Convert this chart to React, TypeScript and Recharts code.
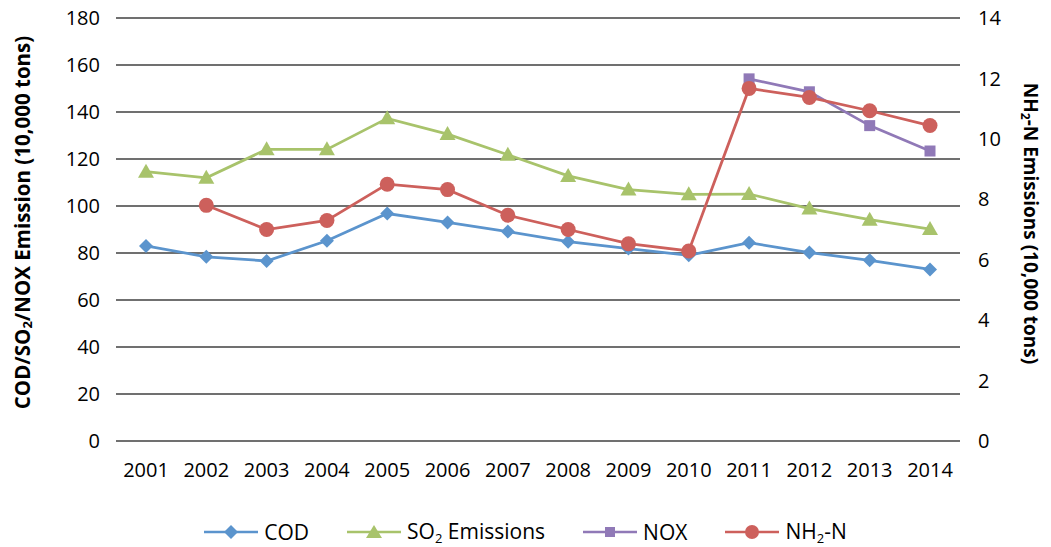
import React from 'react';
import { LineChart, Line, XAxis, YAxis, CartesianGrid, Legend } from 'recharts';

const years = ['2001', '2002', '2003', '2004', '2005', '2006', '2007', '2008', '2009', '2010', '2011', '2012', '2013', '2014'];
const codValues = [83.0, 78.4, 76.6, 85.2, 96.8, 93.0, 89.1, 84.8, 81.9, 79.0, 84.4, 80.2, 76.9, 73.0];
const so2Values = [114.6, 112.0, 124.1, 124.1, 137.3, 130.6, 121.8, 112.8, 107.0, 105.0, 105.1, 98.9, 94.2, 90.2];
const noxValues: (number | null)[] = [null, null, null, null, null, null, null, null, null, null, 154.1, 148.6, 134.2, 123.4];
const nh2nValues: (number | null)[] = [null, 7.8, 7.0, 7.3, 8.5, 8.32, 7.47, 7.0, 6.53, 6.29, 11.67, 11.37, 10.93, 10.44];

const leftTicks = [0, 20, 40, 60, 80, 100, 120, 140, 160, 180];
const rightTicks = [0, 2, 4, 6, 8, 10, 12, 14];

const data = years.map((year, i) => ({
    year,
    cod: codValues[i],
    so2: so2Values[i],
    nox: noxValues[i],
    nh2n: nh2nValues[i],
}));

const COLORS = {
    cod: '#5b94cd',
    so2: '#a8c36b',
    nox: '#9079b7',
    nh2n: '#cd605c',
};

const FONT = '"Open Sans", sans-serif';

type DotProps = { cx?: number; cy?: number; value?: number | null; index?: number };

const hasPoint = (p: DotProps) => p.value != null && p.cx != null && p.cy != null && !isNaN(p.cy);

const DiamondDot = (p: DotProps) => {
    if (!hasPoint(p)) return <g key={`cd-${p.index}`} />;
    const { cx = 0, cy = 0 } = p;
    const r = 7;
    return <polygon key={`cd-${p.index}`} points={`${cx},${cy - r} ${cx + r},${cy} ${cx},${cy + r} ${cx - r},${cy}`} fill={COLORS.cod} />;
};

const TriangleDot = (p: DotProps) => {
    if (!hasPoint(p)) return <g key={`so-${p.index}`} />;
    const { cx = 0, cy = 0 } = p;
    return <polygon key={`so-${p.index}`} points={`${cx},${cy - 8} ${cx + 8},${cy + 6} ${cx - 8},${cy + 6}`} fill={COLORS.so2} />;
};

const SquareDot = (p: DotProps) => {
    if (!hasPoint(p)) return <g key={`nx-${p.index}`} />;
    const { cx = 0, cy = 0 } = p;
    return <rect key={`nx-${p.index}`} x={cx - 5.5} y={cy - 5.5} width={11} height={11} fill={COLORS.nox} />;
};

const CircleDot = (p: DotProps) => {
    if (!hasPoint(p)) return <g key={`nh-${p.index}`} />;
    const { cx = 0, cy = 0 } = p;
    return <circle key={`nh-${p.index}`} cx={cx} cy={cy} r={7.5} fill={COLORS.nh2n} />;
};

const LeftTitle = (props: any) => {
    const vb = props.viewBox || { x: 0, y: 18, width: 116, height: 423 };
    const x = vb.x + 22;
    const y = vb.y + vb.height / 2 - 7;
    return (
        <text x={x} y={y} transform={`rotate(-90, ${x}, ${y})`} textAnchor="middle" dominantBaseline="central"
            fontFamily={FONT} fontSize={20.5} fontWeight="bold" fill="#000">
            COD/SO<tspan dy={5} fontSize={13}>2</tspan><tspan dy={-5}>/NOX Emission (10,000 tons)</tspan>
        </text>
    );
};

const RightTitle = (props: any) => {
    const vb = props.viewBox || { x: 960, y: 18, width: 91, height: 423 };
    const x = vb.x + 71;
    const y = vb.y + vb.height / 2 - 6;
    return (
        <text x={x} y={y} transform={`rotate(90, ${x}, ${y})`} textAnchor="middle" dominantBaseline="central"
            fontFamily={FONT} fontSize={19} fontWeight="bold" fill="#000">
            NH<tspan dy={5} fontSize={12}>2</tspan><tspan dy={-5}>-N Emissions (10,000 tons)</tspan>
        </text>
    );
};

const Sub = ({ children }: { children: React.ReactNode }) => (
    <span style={{ fontSize: 13, position: 'relative', top: 4 }}>{children}</span>
);

const legendItems = [
    { key: 'cod', label: <>COD</>, marker: 'diamond' },
    { key: 'so2', label: <>SO<Sub>2</Sub> Emissions</>, marker: 'triangle' },
    { key: 'nox', label: <>NOX</>, marker: 'square' },
    { key: 'nh2n', label: <>NH<Sub>2</Sub>-N</>, marker: 'circle' },
];

function LegendIcon({ color, marker }: { color: string; marker: string }) {
    return (
        <svg width={54} height={16} style={{ display: 'block' }}>
            <line x1={0} y1={8} x2={54} y2={8} stroke={color} strokeWidth={2.5} />
            {marker === 'diamond' && <polygon points="27,1 34,8 27,15 20,8" fill={color} />}
            {marker === 'triangle' && <polygon points="27,1 35,14 19,14" fill={color} />}
            {marker === 'square' && <rect x={22} y={3} width={10} height={10} fill={color} />}
            {marker === 'circle' && <circle cx={27} cy={8} r={7} fill={color} />}
        </svg>
    );
}

const renderLegend = () => (
    <div style={{ height: 66, paddingTop: 38, boxSizing: 'border-box', display: 'flex', justifyContent: 'center', gap: 38, fontFamily: FONT, fontSize: 21, color: '#000' }}>
        {legendItems.map((item) => (
            <div key={item.key} style={{ display: 'flex', alignItems: 'center', gap: 6, height: 26, lineHeight: '26px' }}>
                <LegendIcon color={COLORS[item.key as keyof typeof COLORS]} marker={item.marker} />
                <span style={{ whiteSpace: 'nowrap' }}>{item.label}</span>
            </div>
        ))}
    </div>
);

export default function App() {
    return (
        <div style={{ width: 1051, height: 547, background: '#fff' }}>
            <style>{`body { margin: 0; }`}</style>
            <LineChart width={1051} height={547} data={data} margin={{ top: 18, right: 0, bottom: 0, left: 0 }} style={{ fontFamily: FONT }}>
                <CartesianGrid yAxisId="left" vertical={false} stroke="#404040" strokeWidth={1.5} />
                <XAxis dataKey="year" height={40} padding={{ left: 30, right: 30 }} axisLine={false} tickLine={false}
                    tickMargin={16} tick={{ fill: '#000', fontSize: 20, fontFamily: FONT }} interval={0} />
                <YAxis yAxisId="left" orientation="left" width={116} domain={[0, 180]} ticks={leftTicks} axisLine={false} tickLine={false}
                    tickMargin={10} tick={{ fill: '#000', fontSize: 20, fontFamily: FONT }} label={{ content: LeftTitle }} />
                <YAxis yAxisId="right" orientation="right" width={91} domain={[0, 14]} ticks={rightTicks} axisLine={false} tickLine={false}
                    tickMargin={12} tick={{ fill: '#000', fontSize: 20, fontFamily: FONT }} label={{ content: RightTitle }} />
                <Legend verticalAlign="bottom" height={66} content={renderLegend} />
                <Line yAxisId="left" dataKey="cod" stroke={COLORS.cod} strokeWidth={2.75} dot={DiamondDot} activeDot={false} isAnimationActive={false} />
                <Line yAxisId="left" dataKey="so2" stroke={COLORS.so2} strokeWidth={2.75} dot={TriangleDot} activeDot={false} isAnimationActive={false} />
                <Line yAxisId="left" dataKey="nox" stroke={COLORS.nox} strokeWidth={2.75} dot={SquareDot} activeDot={false} isAnimationActive={false} />
                <Line yAxisId="right" dataKey="nh2n" stroke={COLORS.nh2n} strokeWidth={2.75} dot={CircleDot} activeDot={false} isAnimationActive={false} />
            </LineChart>
        </div>
    );
}
